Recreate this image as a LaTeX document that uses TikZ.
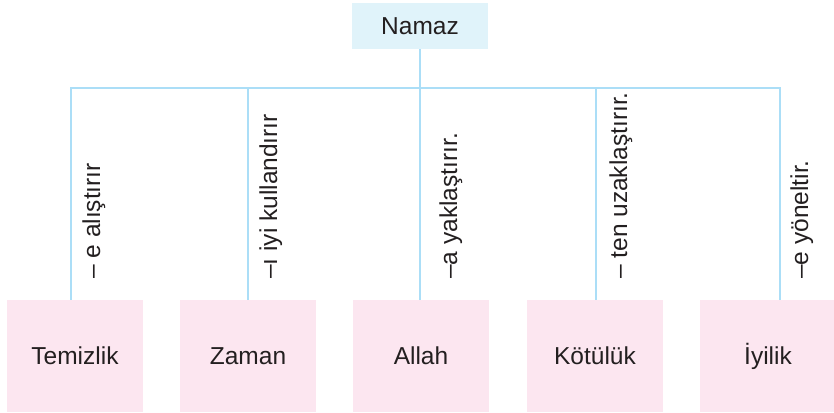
\documentclass[tikz,border=0pt]{standalone}
\usepackage{fontspec}
\setmainfont{Liberation Sans}
\definecolor{linec}{HTML}{ABDEF7}
\definecolor{topc}{HTML}{E0F3FA}
\definecolor{pinkc}{HTML}{FCE6F0}
\definecolor{txt}{HTML}{231F20}
\begin{document}
\begin{tikzpicture}[x=1pt,y=-1pt,
  lbl/.style={text=txt,font=\fontsize{24.5}{29}\selectfont,inner sep=0pt},
  topbox/.style={lbl,fill=topc,minimum width=136pt,minimum height=46pt,text height=17.5pt,text depth=0pt},
  leaf/.style={lbl,fill=pinkc,minimum width=136pt,minimum height=112pt,text height=17.5pt,text depth=0pt},
  conn/.style={draw=linec,line width=2.2pt},
  rel/.style={lbl,rotate=90,anchor=base west}]
\useasboundingbox (0,0) rectangle (834,412);
\node[topbox] (namaz) at (420,26) {Namaz};
\node[leaf] (t1) at (75,356) {Temizlik};
\node[leaf] (t2) at (248,356) {Zaman};
\node[leaf] (t3) at (421,356) {Allah};
\node[leaf] (t4) at (595,356) {Kötülük};
\node[leaf] (t5) at (768,356) {İyilik};
\coordinate (hub) at (420,88);
\coordinate (b1) at (71,88);
\coordinate (b2) at (248,88);
\coordinate (b3) at (420,88);
\coordinate (b4) at (596,88);
\coordinate (b5) at (780,88);
\draw[conn] (namaz.south) -- (hub);
\draw[conn] ([xshift=-1pt]b1) -- ([xshift=1pt]b5);
\foreach \i in {1,...,5}{
  \draw[conn] (b\i) -- (b\i |- t\i.north);
}
\node[rel] (r1) at (100,279) {– e alıştırır};
\node[rel] (r2) at (277,279) {–ı iyi kullandırır};
\node[rel] (r3) at (457,279) {–a yaklaştırır.};
\node[rel] (r4) at (627,279) {– ten uzaklaştırır.};
\node[rel] (r5) at (808,279) {–e yöneltir.};
\end{tikzpicture}
\end{document}
